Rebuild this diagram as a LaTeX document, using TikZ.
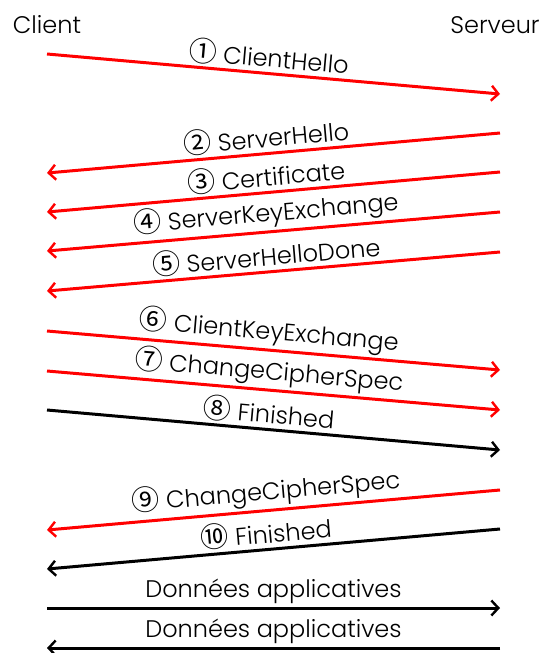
\documentclass[tikz,border=0pt]{standalone}
\usepackage{fontspec}
\IfFontExistsTF{Poppins Light}{\setmainfont{Poppins Light}}{\setmainfont{Poppins}}
\newfontfamily\circfont{Noto Sans CJK SC}
\usetikzlibrary{arrows.meta}
\tikzset{
  msg/.style={line width=3pt, -{Straight Barb[length=7pt,width=15pt,line width=2.4pt]}},
  redmsg/.style={msg, draw=red},
  blkmsg/.style={msg, draw=black},
  lbl/.style={midway, sloped, above, inner sep=2.5pt, font=\fontsize{24}{28}\selectfont},
  nlbl/.style={lbl, xshift=-6pt},
  party/.style={font=\fontsize{24}{28}\selectfont, inner sep=0pt}
}
\newcommand{\cnum}[1]{{\fontsize{28}{30}\circfont #1}}
\begin{document}
\begin{tikzpicture}[x=1pt,y=-1pt]
\useasboundingbox (0,0) rectangle (546,653);
\node[party] (client) at (47,25) {Client};
\node[party] (serveur) at (495,25) {Serveur};
\coordinate (c1) at (47,54);  \coordinate (s1) at (500,94);
\coordinate (s2) at (500,133); \coordinate (c2) at (47,173);
\coordinate (s3) at (500,172); \coordinate (c3) at (47,212);
\coordinate (s4) at (500,212); \coordinate (c4) at (47,251);
\coordinate (s5) at (500,252); \coordinate (c5) at (47,291);
\coordinate (c6) at (47,331); \coordinate (s6) at (500,370);
\coordinate (c7) at (47,371); \coordinate (s7) at (500,410);
\coordinate (c8) at (47,410); \coordinate (s8) at (500,450);
\coordinate (s9) at (500,490); \coordinate (c9) at (47,530);
\coordinate (s10) at (500,529); \coordinate (c10) at (47,569);
\coordinate (c11) at (47,608); \coordinate (s11) at (500,608);
\coordinate (s12) at (500,648); \coordinate (c12) at (47,648);
\draw[redmsg] (c1) -- node[nlbl] {\cnum{①} ClientHello} (s1);
\draw[redmsg] (s2) -- node[nlbl] {\cnum{②} ServerHello} (c2);
\draw[redmsg] (s3) -- node[nlbl] {\cnum{③} Certificate} (c3);
\draw[redmsg] (s4) -- node[nlbl] {\cnum{④} ServerKeyExchange} (c4);
\draw[redmsg] (s5) -- node[nlbl] {\cnum{⑤} ServerHelloDone} (c5);
\draw[redmsg] (c6) -- node[nlbl] {\cnum{⑥} ClientKeyExchange} (s6);
\draw[redmsg] (c7) -- node[nlbl] {\cnum{⑦} ChangeCipherSpec} (s7);
\draw[blkmsg] (c8) -- node[nlbl] {\cnum{⑧} Finished} (s8);
\draw[redmsg] (s9) -- node[nlbl] {\cnum{⑨} ChangeCipherSpec} (c9);
\draw[blkmsg] (s10) -- node[nlbl] {\cnum{⑩} Finished} (c10);
\draw[blkmsg] (c11) -- node[lbl] {Données applicatives} (s11);
\draw[blkmsg] (s12) -- node[lbl] {Données applicatives} (c12);
\end{tikzpicture}
\end{document}
